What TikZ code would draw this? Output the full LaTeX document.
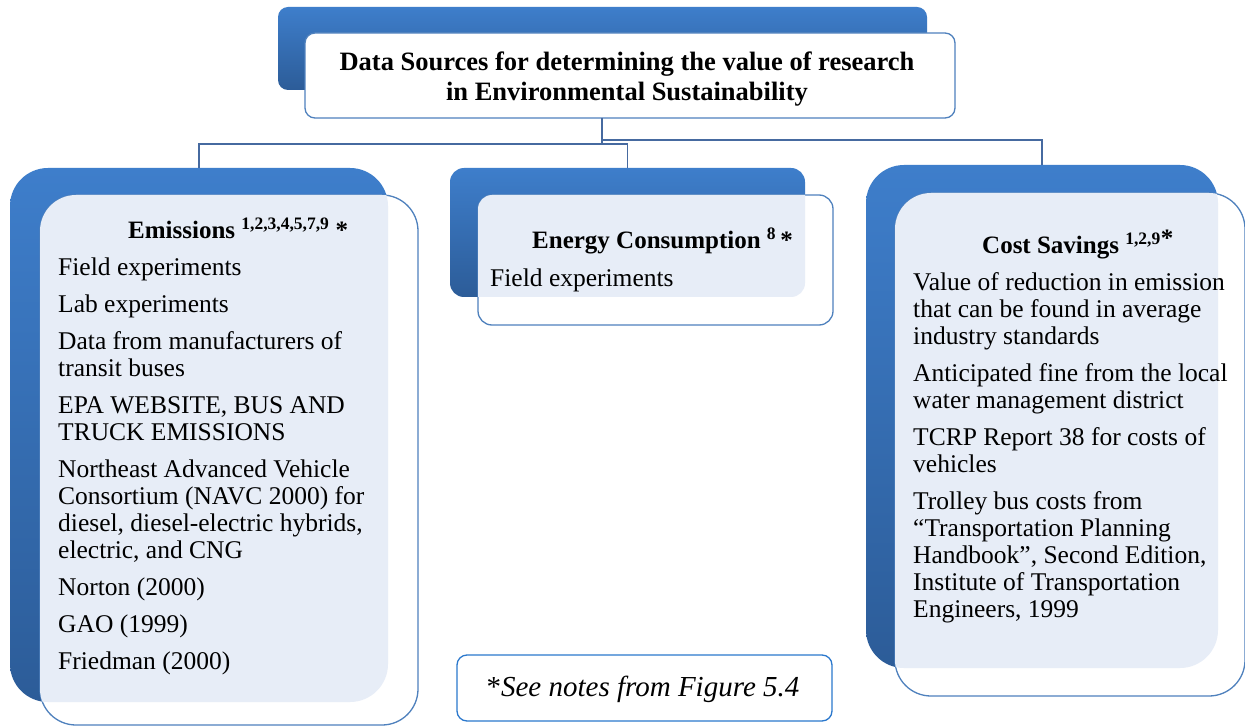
\documentclass[tikz,border=0pt]{standalone}
\usepackage{fontspec}
\setmainfont{Liberation Serif}
\definecolor{backTop}{RGB}{62,126,203}
\definecolor{backBot}{RGB}{44,92,152}
\definecolor{frontLine}{RGB}{79,129,189}
\definecolor{lightFill}{RGB}{231,237,247}
\definecolor{connLine}{RGB}{70,106,160}
\definecolor{noteLine}{RGB}{43,120,205}
\newcommand\lstrut{\rule{0pt}{21pt}}
\begin{document}
\begin{tikzpicture}[x=1pt,y=-1pt,
  backbox/.style={shade, top color=backTop, bottom color=backBot, draw=none, inner sep=0pt, outer sep=0pt},
  frontbox/.style={fill=white, draw=frontLine, line width=1.3pt, inner sep=0pt, outer sep=0pt},
  conn/.style={draw=connLine, line width=1.3pt},
  body/.style={inner sep=0pt, anchor=north west, align=left, font=\fontsize{25.5}{27}\selectfont},
  head/.style={inner sep=0pt, anchor=base west, font=\bfseries\fontsize{25}{27}\selectfont},
]
\useasboundingbox (0,0) rectangle (1245,727);
\fill[white] (0,0) rectangle (1245,727);

% back boxes
\node[backbox, rounded corners=10pt, minimum width=649pt, minimum height=83pt] (topB) at (602.5,48.5) {};
\node[backbox, rounded corners=38pt, minimum width=378pt, minimum height=534pt] (emisB) at (199,435) {};
\node[backbox, rounded corners=14pt, minimum width=355pt, minimum height=129pt] (enerB) at (627.5,232.5) {};
\node[backbox, rounded corners=38pt, minimum width=352pt, minimum height=503pt] (costB) at (1042,416.5) {};

% front boxes
\node[frontbox, rounded corners=10pt, minimum width=650pt, minimum height=85pt] (topF) at (630,75.5) {};
\node[frontbox, rounded corners=36pt, minimum width=378pt, minimum height=530pt] (emisF) at (229,460) {};
\node[frontbox, rounded corners=14pt, minimum width=355pt, minimum height=130pt] (enerF) at (655.5,260) {};
\node[frontbox, rounded corners=36pt, minimum width=350pt, minimum height=503pt] (costF) at (1070,444.5) {};

% light overlap fills
\begin{scope}
\clip[rounded corners=38pt] (emisB.south west) rectangle (emisB.north east);
\fill[lightFill, rounded corners=36pt] (emisF.south west) rectangle (emisF.north east);
\end{scope}
\begin{scope}
\clip[rounded corners=14pt] (enerB.south west) rectangle (enerB.north east);
\fill[lightFill, rounded corners=14pt] (enerF.south west) rectangle (enerF.north east);
\end{scope}
\begin{scope}
\clip[rounded corners=38pt] (costB.south west) rectangle (costB.north east);
\fill[lightFill, rounded corners=36pt] (costF.south west) rectangle (costF.north east);
\end{scope}

% connectors
\coordinate (jL) at (602,144);
\coordinate (jR) at (602,140);
\draw[conn] (topF.south -| jL) -- (jL) -| (emisB.north);
\draw[conn] (jL) -| (enerB.north);
\draw[conn] (jR) -| (costB.north);

% title
\node[font=\bfseries\fontsize{26.5}{30}\selectfont, align=center, anchor=north, inner sep=0pt] (title) at (627,49)
  {\lstrut Data Sources for determining the value of research\\ in Environmental Sustainability};

% headings
\node[head] (emisH) at (128,239) {Emissions \textsuperscript{1,2,3,4,5,7,9} *};
\node[head] (enerH) at (532,249) {Energy Consumption \textsuperscript{8}\,*};
\node[head] (costH) at (982,254) {Cost Savings \textsuperscript{1,2,9}\raisebox{0.3em}{*}};

% lists
\node[body] (emisT) at (58,254) {\lstrut Field experiments\\[10pt]
Lab experiments\\[10pt]
Data from manufacturers of\\ transit buses\\[10pt]
EPA WEBSITE, BUS AND\\ TRUCK EMISSIONS\\[10pt]
Northeast Advanced Vehicle\\ Consortium (NAVC 2000) for\\ diesel, diesel-electric hybrids,\\ electric, and CNG\\[10pt]
Norton (2000)\\[10pt]
GAO (1999)\\[10pt]
Friedman (2000)};

\node[body] (enerT) at (490,265) {\lstrut Field experiments};

\node[body] (costT) at (913,269) {\lstrut Value of reduction in emission\\ that can be found in average\\ industry standards\\[10pt]
Anticipated fine from the local\\ water management district\\[10pt]
TCRP Report 38 for costs of\\ vehicles\\[10pt]
Trolley bus costs from\\ “Transportation Planning\\ Handbook”, Second Edition,\\ Institute of Transportation\\ Engineers, 1999};

% note
\node[draw=noteLine, line width=1.3pt, fill=white, rounded corners=10pt, minimum width=375pt, minimum height=66pt, inner sep=0pt] (note) at (644.5,688) {};
\node[anchor=base, inner sep=0pt, font=\fontsize{29}{32}\selectfont] (noteT) at (643,696) {*\textit{See notes from Figure 5.4}};
\end{tikzpicture}
\end{document}
